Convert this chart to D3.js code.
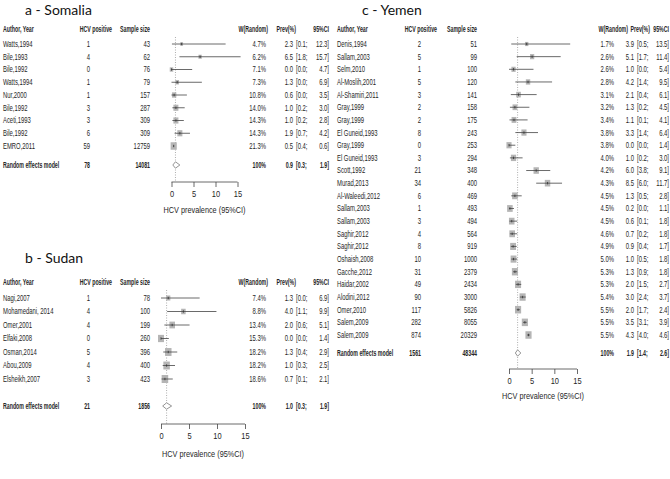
<!DOCTYPE html>
<html>
<head>
<meta charset="utf-8">
<script src="https://cdn.jsdelivr.net/npm/d3@7"></script>
<style>
html,body{margin:0;padding:0;background:#fff;}
svg{display:block;}
</style>
</head>
<body>
<svg id="chart" width="670" height="479"></svg>
<script>
// ---------------- DATA ----------------
const tickValues = [0, 5, 10, 15];
const xAxisLabel = "HCV prevalence (95%CI)";
const columnHeaders = ["Author, Year", "HCV positive", "Sample size", "W(Random)", "Prev(%)", "95%CI"];
const summaryLabel = "Random effects model";

// a - Somalia
const somaliaTitle = "a - Somalia";
const somaliaStudies = ["Watts,1994", "Bile,1993", "Bile,1992", "Watts,1994", "Nur,2000", "Bile,1992", "Aceti,1993", "Bile,1992", "EMRO,2011"];
const somaliaPositive = [1, 4, 0, 1, 1, 3, 3, 6, 59];
const somaliaSample = [43, 62, 76, 79, 157, 287, 309, 309, 12759];
const somaliaWeight = [4.7, 6.2, 7.1, 7.3, 10.8, 14.0, 14.3, 14.3, 21.3];
const somaliaPrev = [2.3, 6.5, 0.0, 1.3, 0.6, 1.0, 1.0, 1.9, 0.5];
const somaliaLower = [0.1, 1.8, 0.0, 0.0, 0.0, 0.2, 0.2, 0.7, 0.4];
const somaliaUpper = [12.3, 15.7, 4.7, 6.9, 3.5, 3.0, 2.8, 4.2, 0.6];
const somaliaSummary = [78, 14081, 0.9, 0.3, 1.9]; // positive, sample, prev, lower, upper

// b - Sudan
const sudanTitle = "b - Sudan";
const sudanStudies = ["Nagi,2007", "Mohamedani, 2014", "Omer,2001", "Elfaki,2008", "Osman,2014", "Abou,2009", "Elsheikh,2007"];
const sudanPositive = [1, 4, 4, 0, 5, 4, 3];
const sudanSample = [78, 100, 199, 260, 396, 400, 423];
const sudanWeight = [7.4, 8.8, 13.4, 15.3, 18.2, 18.2, 18.6];
const sudanPrev = [1.3, 4.0, 2.0, 0.0, 1.3, 1.0, 0.7];
const sudanLower = [0.0, 1.1, 0.6, 0.0, 0.4, 0.3, 0.1];
const sudanUpper = [6.9, 9.9, 5.1, 1.4, 2.9, 2.5, 2.1];
const sudanSummary = [21, 1856, 1.0, 0.3, 1.9];

// c - Yemen
const yemenTitle = "c - Yemen";
const yemenStudies = ["Denis,1994", "Sallam,2003", "Selm,2010", "Al-Moslih,2001", "Al-Shamiri,2011", "Gray,1999", "Gray,1999", "El Guneid,1993", "Gray,1999", "El Guneid,1993", "Scott,1992", "Murad,2013", "Al-Waleedi,2012", "Sallam,2003", "Sallam,2003", "Saghir,2012", "Saghir,2012", "Oshaish,2008", "Gacche,2012", "Haidar,2002", "Alodini,2012", "Omer,2010", "Salem,2009", "Salem,2009"];
const yemenPositive = [2, 5, 1, 5, 3, 2, 2, 8, 0, 3, 21, 34, 6, 1, 3, 4, 8, 10, 31, 49, 90, 117, 282, 874];
const yemenSample = [51, 99, 100, 120, 141, 158, 175, 243, 253, 294, 348, 400, 469, 493, 494, 564, 919, 1000, 2379, 2434, 3000, 5826, 8055, 20329];
const yemenWeight = [1.7, 2.6, 2.6, 2.8, 3.1, 3.2, 3.4, 3.8, 3.8, 4.0, 4.2, 4.3, 4.5, 4.5, 4.5, 4.6, 4.9, 5.0, 5.3, 5.3, 5.4, 5.5, 5.5, 5.5];
const yemenPrev = [3.9, 5.1, 1.0, 4.2, 2.1, 1.3, 1.1, 3.3, 0.0, 1.0, 6.0, 8.5, 1.3, 0.2, 0.6, 0.7, 0.9, 1.0, 1.3, 2.0, 3.0, 2.0, 3.5, 4.3];
const yemenLower = [0.5, 1.7, 0.0, 1.4, 0.4, 0.2, 0.1, 1.4, 0.0, 0.2, 3.8, 6.0, 0.5, 0.0, 0.1, 0.2, 0.4, 0.5, 0.9, 1.5, 2.4, 1.7, 3.1, 4.0];
const yemenUpper = [13.5, 11.4, 5.4, 9.5, 6.1, 4.5, 4.1, 6.4, 1.4, 3.0, 9.1, 11.7, 2.8, 1.1, 1.8, 1.8, 1.7, 1.8, 1.8, 2.7, 3.7, 2.4, 3.9, 4.6];
const yemenSummary = [1561, 48344, 1.9, 1.4, 2.6];

// ---------------- DRAWING ----------------
const svg = d3.select("#chart");
const FONT = "'Liberation Sans',Arial,sans-serif";
const TITLE_FONT = "Lato,'Open Sans',sans-serif";
const TXT = "#262626";
const FS = 8.2, SX = 0.72, SXB = 0.64;

// condensed text helper
function ctext(parent, x, y, str, anchor, bold, fs, sx) {
  return parent.append("text")
    .attr("transform", `translate(${x},${y}) scale(${sx || (bold ? SXB : SX)},1)`)
    .attr("text-anchor", anchor || "start")
    .attr("font-family", FONT)
    .attr("font-size", fs || FS)
    .attr("font-weight", bold ? "bold" : "normal")
    .attr("fill", TXT)
    .text(str);
}

function drawPanel(title, studies, positive, sample, weight, prev, lower, upper, summary, L) {
  const g = svg.append("g");
  const x = d3.scaleLinear().domain([0, 15]).range([L.x0, L.x15]);
  const n = studies.length;
  const y = d3.scaleLinear().domain([0, n - 1]).range([L.row0, L.rowN]);
  const wMax = d3.max(weight);

  // title
  g.append("text").attr("x", L.titleX).attr("y", L.titleY)
    .attr("font-family", TITLE_FONT).attr("font-size", 14).attr("fill", "#111").text(title);

  // headers
  const hy = L.headerY;
  ctext(g, L.authX, hy, columnHeaders[0], "start", true);
  ctext(g, L.posHX, hy, columnHeaders[1], "end", true);
  ctext(g, L.sampX, hy, columnHeaders[2], "end", true);
  ctext(g, L.wHX, hy, columnHeaders[3], "end", true);
  ctext(g, L.prevHX, hy, columnHeaders[4], "end", true);
  ctext(g, L.ciHX, hy, columnHeaders[5], "end", true);

  // dotted line at summary estimate
  g.append("line").attr("x1", x(summary[2])).attr("x2", x(summary[2]))
    .attr("y1", L.headerY + 5).attr("y2", L.axisY)
    .attr("stroke", "#999").attr("stroke-width", 0.8).attr("stroke-dasharray", "1,1.5");

  const idx = d3.range(n);
  const dy = FS * 0.36;
  idx.forEach(i => {
    const yy = y(i) + dy;
    ctext(g, L.authX, yy, studies[i]);
    ctext(g, L.posX, yy, positive[i], "end");
    ctext(g, L.sampX, yy, sample[i], "end");
    ctext(g, L.wX, yy, weight[i].toFixed(1) + "%", "end");
    ctext(g, L.prevX, yy, prev[i].toFixed(1), "end");
    ctext(g, L.ciL, yy, "[" + lower[i].toFixed(1) + ";");
    ctext(g, L.ciR, yy, upper[i].toFixed(1) + "]", "end");
  });

  // squares + CI lines
  const marks = g.append("g");
  idx.forEach(i => {
    const yy = y(i);
    const s = L.sqMax * Math.sqrt(weight[i] / wMax);
    const sw = s * L.sqAspect;
    marks.append("rect").attr("x", x(prev[i]) - sw / 2).attr("y", yy - s / 2)
      .attr("width", sw).attr("height", s).attr("fill", "#b5b5b5");
    marks.append("line").attr("x1", x(lower[i])).attr("x2", x(upper[i]))
      .attr("y1", yy).attr("y2", yy).attr("stroke", "#444").attr("stroke-width", 0.8);
    marks.append("line").attr("x1", x(prev[i])).attr("x2", x(prev[i]))
      .attr("y1", yy - 1.2).attr("y2", yy + 1.2).attr("stroke", "#333").attr("stroke-width", 0.8);
  });

  // summary row
  const sy = L.sumY;
  ctext(g, L.authX, sy + dy, summaryLabel, "start", true);
  ctext(g, L.posX, sy + dy, summary[0], "end", true);
  ctext(g, L.sampX, sy + dy, summary[1], "end", true);
  ctext(g, L.wX, sy + dy, "100%", "end", true);
  ctext(g, L.prevX, sy + dy, summary[2].toFixed(1), "end", true);
  ctext(g, L.ciL, sy + dy, "[" + summary[3].toFixed(1) + ";", "start", true);
  ctext(g, L.ciR, sy + dy, summary[4].toFixed(1) + "]", "end", true);

  const dh = 3.2;
  g.append("path")
    .attr("d", `M${x(summary[3])},${sy} L${x(summary[2])},${sy - dh} L${x(summary[4])},${sy} L${x(summary[2])},${sy + dh} Z`)
    .attr("fill", "#fff").attr("stroke", "#888").attr("stroke-width", 0.9);

  // axis
  const axis = d3.axisBottom(x).tickValues(tickValues).tickSize(5).tickPadding(4).tickFormat(d3.format("d"));
  const ax = g.append("g").attr("transform", `translate(0,${L.axisY})`).call(axis);
  ax.select(".domain").attr("stroke", "#444").attr("stroke-width", 0.8).attr("d", `M${L.x0},0H${L.x15}`);
  ax.selectAll(".tick line").attr("stroke", "#444").attr("stroke-width", 0.8);
  ax.selectAll(".tick text").attr("font-family", FONT).attr("font-size", 8.8).attr("fill", TXT)
    .attr("transform", "scale(0.85,1)");

  ctext(g, (L.x0 + L.x15) / 2, L.xlabY, xAxisLabel, "middle", false, 8.6, 0.85);
}

const colsLeft = {authX: 3, posHX: 112, posX: 90, sampX: 150, wHX: 268, wX: 266, prevHX: 296, prevX: 293, ciL: 296, ciR: 329, ciHX: 329, sqAspect: 0.82};

drawPanel(somaliaTitle, somaliaStudies, somaliaPositive, somaliaSample, somaliaWeight, somaliaPrev, somaliaLower, somaliaUpper, somaliaSummary,
  Object.assign({}, colsLeft, {x0: 171.5, x15: 237.5, titleX: 25, titleY: 15, headerY: 32, row0: 44, rowN: 146, sumY: 165, axisY: 182, xlabY: 213, sqMax: 7.5}));

drawPanel(sudanTitle, sudanStudies, sudanPositive, sudanSample, sudanWeight, sudanPrev, sudanLower, sudanUpper, sudanSummary,
  Object.assign({}, colsLeft, {x0: 161, x15: 245, titleX: 25, titleY: 263, headerY: 285, row0: 298, rowN: 379, sumY: 406, axisY: 424, xlabY: 457, sqMax: 8}));

drawPanel(yemenTitle, yemenStudies, yemenPositive, yemenSample, yemenWeight, yemenPrev, yemenLower, yemenUpper, yemenSummary,
  {authX: 337, posHX: 437, posX: 421, sampX: 477, wHX: 628, wX: 614, prevHX: 650, prevX: 634, ciL: 637, ciR: 669, ciHX: 669, sqAspect: 0.82,
   x0: 509, x15: 577, titleX: 362, titleY: 15, headerY: 32, row0: 44, rowN: 335, sumY: 353, axisY: 369, xlabY: 399, sqMax: 7.5});
</script>
</body>
</html>
